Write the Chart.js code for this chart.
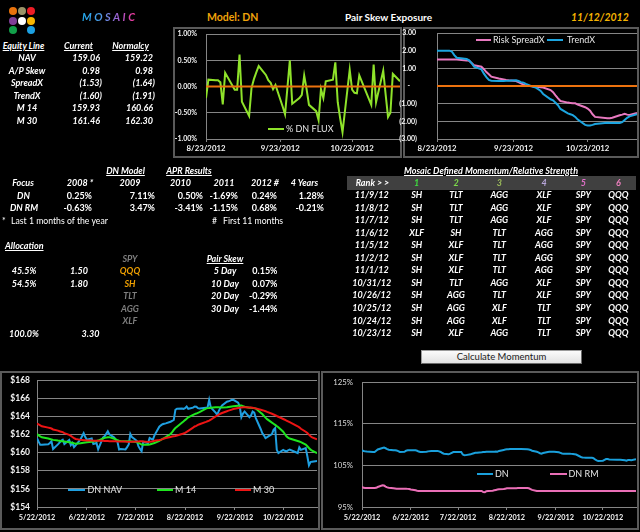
<!DOCTYPE html>
<html lang="en">
<head>
<meta charset="UTF-8">
<title>Mosaic - Pair Skew Exposure</title>
<script src="https://cdn.jsdelivr.net/npm/chart.js"></script>
<style>
  html, body { margin: 0; padding: 0; background: #000; }
  #page { position: relative; width: 640px; height: 532px; background: #000; overflow: hidden; }
  .t { position: absolute; height: 12px; line-height: 12px; white-space: pre; color: #fff;
       font: italic bold 9px Lato, 'Liberation Sans', sans-serif; }
  .u { text-decoration: underline; }
  .n { font-style: normal; }
  .plain { font-style: normal; font-weight: normal; font-size: 8.7px; }
  .frame { position: absolute; box-sizing: border-box; border: 2px solid #5a5a5a; background: #000; }
  canvas { position: absolute; }
  .dot { position: absolute; width: 8px; height: 8px; border-radius: 50%; }
  .key { position: absolute; height: 2px; }
  .lg { position: absolute; height: 12px; line-height: 12px; white-space: pre; color: #e6e6e6;
        font: 9px Lato, 'Liberation Sans', sans-serif; }
  .head { position: absolute; top: 10px; height: 14px; line-height: 14px; white-space: pre;
          font-family: Lato, 'Liberation Sans', sans-serif; font-weight: bold; }
</style>
</head>
<body>
<div id="page">
  <!-- logo -->
  <div class="dot" style="left:9px;top:7px;background:#e8720c"></div>
  <div class="dot" style="left:18px;top:7px;background:#9a9468"></div>
  <div class="dot" style="left:27px;top:7px;background:#ee1c25"></div>
  <div class="dot" style="left:9px;top:17px;background:#7f3f98"></div>
  <div class="dot" style="left:18px;top:17px;background:#ffffff"></div>
  <div class="dot" style="left:27px;top:17px;background:#f7b500"></div>
  <div class="dot" style="left:9px;top:26px;background:#12a04a"></div>
  <div class="dot" style="left:27px;top:26px;background:#1ca0e2"></div>

  <div class="head" style="left:82px;font-size:11px;font-style:italic;letter-spacing:2.5px;
       background:linear-gradient(90deg,#1ea8ea,#4f9be8,#a45bd0,#ff2f8a);-webkit-background-clip:text;background-clip:text;color:transparent">MOSAIC</div>
  <div class="head" style="left:207px;font-size:10.5px;color:#f0a30a">Model: DN</div>
  <div class="head" style="left:345px;font-size:10px;color:#fff">Pair Skew Exposure</div>
  <div class="head" style="left:571px;font-size:10.5px;font-style:italic;color:#f5b400">11/12/2012</div>

  <div class="frame" style="left:173px;top:27px;width:229px;height:131px"></div>
  <div class="frame" style="left:403px;top:27px;width:236px;height:131px"></div>
  <div class="frame" style="left:0px;top:371px;width:320px;height:159px"></div>
  <div class="frame" style="left:321px;top:371px;width:318px;height:159px"></div>

  <canvas id="flux" width="229" height="126" style="left:171px;top:29px"></canvas>
  <canvas id="skew" width="239" height="126" style="left:398px;top:29px"></canvas>
  <canvas id="nav" width="316" height="155" style="left:2px;top:373px"></canvas>
  <canvas id="perf" width="314" height="155" style="left:323px;top:373px"></canvas>

  <div style="position:absolute;left:347px;top:176px;width:289px;height:14px;background:#404040"></div>
  <div style="position:absolute;left:421px;top:350px;width:161px;height:14px;box-sizing:border-box;
       background:linear-gradient(#fbfbfb,#e2e2e2);border:1px solid #9a9a9a;border-right-color:#6a6a6a;border-bottom-color:#6a6a6a;
       font:9.5px Lato,sans-serif;color:#1a1a1a;text-align:center;line-height:12px">Calculate Momentum</div>
</div>

<script>
// trading days, 5/22/2012 .. 11/12/2012
const dates = [
  '5/22','5/23','5/24','5/25','5/29','5/30','5/31',
  '6/1','6/4','6/5','6/6','6/7','6/8','6/11','6/12','6/13','6/14','6/15','6/18','6/19','6/20','6/21','6/22','6/25','6/26','6/27','6/28','6/29',
  '7/2','7/3','7/5','7/6','7/9','7/10','7/11','7/12','7/13','7/16','7/17','7/18','7/19','7/20','7/23','7/24','7/25','7/26','7/27','7/30','7/31',
  '8/1','8/2','8/3','8/6','8/7','8/8','8/9','8/10','8/13','8/14','8/15','8/16','8/17','8/20','8/21','8/22','8/23','8/24','8/27','8/28','8/29','8/30','8/31',
  '9/4','9/5','9/6','9/7','9/10','9/11','9/12','9/13','9/14','9/17','9/18','9/19','9/20','9/21','9/24','9/25','9/26','9/27','9/28',
  '10/1','10/2','10/3','10/4','10/5','10/8','10/9','10/10','10/11','10/12','10/15','10/16','10/17','10/18','10/19','10/22','10/23','10/24','10/25','10/26','10/31',
  '11/1','11/2','11/5','11/6','11/7','11/8','11/9','11/12'
];
const recentDates = dates.slice(dates.indexOf('8/23'));
const recentTicks = ['8/23', '9/23', '10/23'];
const longTicks = ['5/22', '6/22', '7/22', '8/22', '9/22', '10/22'];

// % DN FLUX (daily)
const dnFlux = [
  -0.22, 0.13, 0.12, 0.12, 0.08, -0.34, 0.26,
  -0.06, -0.06, 0.61, -0.29, -0.56, -0.03, 0.14, 0.27, 0.39, 0.22, 0.12, 0.07, -0.05, 0.03, -0.38, -0.53, -0.02, 0.50, -0.33,
  -0.22, -0.16, 0.21, -0.05, -0.35, -0.47, -0.64, -0.05, -0.22, 0.10, 0.13, 0.46, -0.30, -0.60, -0.87, 0.32, -0.06, -0.12, -0.13, 0.21, -0.35,
  0.42, -0.30, 0.30, -0.15, -0.58, -0.50, 0.24, 0.10
];
const fluxZero = [0, 0];

const riskSpreadX = [
  1.50, 1.50, 1.50, 1.50, 1.50, 1.50, 1.50,
  1.45, 1.43, 1.30, 1.17, 1.09, 0.95, 0.79, 0.66, 0.53, 0.42, 0.40, 0.37, 0.34, 0.32, 0.28, 0.22, 0.15, 0.08, 0.02,
  -0.03, -0.04, -0.05, -0.07, -0.09, -0.23, -0.35, -0.53, -0.70, -0.85, -0.94, -0.96, -0.98, -0.98, -1.05, -1.20, -1.28, -1.40, -1.60, -1.75, -1.83,
  -1.82, -1.80, -1.66, -1.62, -1.57, -1.62, -1.64, -1.53
];
const trendX = [
  2.00, 2.00, 2.00, 2.00, 1.95, 1.75, 1.60,
  1.53, 1.45, 1.30, 1.10, 0.94, 0.70, 0.50, 0.34, 0.30, 0.28, 0.28, 0.28, 0.29, 0.30, 0.32, 0.28, 0.22, 0.19, 0.12,
  -0.05, -0.09, -0.18, -0.28, -0.45, -0.75, -0.81, -0.95, -1.09, -1.30, -1.55, -1.60, -1.65, -1.75, -1.90, -2.20, -2.23, -2.23, -2.20, -2.15, -2.08,
  -2.09, -2.10, -2.10, -2.05, -1.92, -1.80, -1.72, -1.60
];
const skewZero = [0, 0];

const dnNav = [
  161.60, 161.20, 160.85, 160.85, 160.92, 161.05, 161.24,
  160.40, 160.90, 161.10, 161.30, 161.42, 160.95, 161.40, 160.82, 161.05, 160.60, 160.80, 161.45, 161.80, 162.15, 161.70, 161.42, 161.55, 160.95, 161.00, 161.05, 160.35,
  161.65, 161.79, 162.34, 162.00, 161.65, 161.40, 161.20, 160.35, 160.40, 160.35, 160.60, 160.90, 162.05, 161.70, 161.30, 160.70, 160.40, 160.15, 161.20, 161.05, 161.60,
  161.50, 161.42, 161.90, 162.85, 163.00, 163.12, 163.18, 163.22, 163.40, 163.50, 163.60, 164.72, 164.83, 164.85, 164.82, 164.90, 165.08, 164.83, 164.95, 165.08, 165.05, 164.90, 164.85,
  164.95, 164.97, 165.82, 164.97, 164.40, 164.17, 164.60, 164.95, 165.19, 165.60, 165.65, 165.72, 165.80, 165.82, 165.50, 165.08, 163.90, 164.30, 164.53,
  163.90, 164.10, 164.53, 164.40, 163.80, 162.60, 162.15, 161.90, 161.60, 161.70, 162.04, 162.50, 162.70, 160.30, 159.95, 160.30, 160.20, 160.14, 160.25, 160.32, 159.95,
  160.58, 160.30, 160.50, 159.60, 158.60, 158.95, 159.00, 159.06
];
const m14 = [
  162.05, 161.90, 161.78, 161.68, 161.55, 161.50, 161.45,
  161.40, 161.32, 161.30, 161.26, 161.24, 161.22, 161.15, 161.12, 161.08, 161.02, 160.98, 161.02, 161.06, 161.09, 161.12, 161.15, 161.20, 161.22, 161.24, 161.28, 161.32,
  161.55, 161.62, 161.70, 161.70, 161.52, 161.45, 161.35, 161.30, 161.28, 161.24, 161.24, 161.24, 161.24, 161.22, 161.16, 161.08, 160.98, 160.88, 160.87, 160.87, 160.90,
  160.95, 161.00, 161.05, 161.30, 161.40, 161.50, 161.60, 161.70, 162.05, 162.25, 162.50, 162.70, 162.85, 163.28, 163.42, 163.58, 163.72, 163.88, 164.15, 164.24, 164.30, 164.38, 164.45,
  164.85, 164.90, 164.92, 164.95, 165.00, 165.00, 164.99, 164.98, 164.97, 165.00, 165.03, 165.06, 165.09, 165.11, 165.16, 165.18, 165.19, 165.12, 165.05,
  164.95, 164.93, 164.92, 164.90, 164.85, 164.40, 164.25, 164.05, 163.85, 163.68, 163.30, 163.18, 163.05, 162.92, 162.80, 162.30, 162.05, 161.80, 161.65, 161.55, 161.28,
  161.22, 161.16, 160.88, 160.70, 160.50, 160.32, 160.20, 159.93
];
const m30 = [
  163.20, 163.10, 163.00, 162.90, 162.75, 162.70, 162.65,
  162.55, 162.42, 162.35, 162.30, 162.25, 162.15, 161.95, 161.85, 161.72, 161.60, 161.50, 161.40, 161.38, 161.36, 161.35, 161.34, 161.32, 161.31, 161.31, 161.30, 161.30,
  161.29, 161.28, 161.27, 161.26, 161.25, 161.24, 161.23, 161.22, 161.22, 161.21, 161.20, 161.20, 161.20, 161.20, 161.22, 161.23, 161.24, 161.24, 161.22, 161.16, 161.18,
  161.22, 161.25, 161.30, 161.38, 161.42, 161.48, 161.55, 161.60, 161.72, 161.76, 161.79, 161.82, 161.88, 162.05, 162.10, 162.17, 162.28, 162.40, 162.75, 162.88, 162.95, 163.05, 163.12,
  163.38, 163.45, 163.52, 163.62, 163.98, 164.08, 164.18, 164.28, 164.36, 164.56, 164.62, 164.68, 164.74, 164.80, 164.92, 164.95, 164.97, 164.99, 165.00,
  164.98, 164.96, 164.93, 164.90, 164.87, 164.72, 164.67, 164.62, 164.56, 164.48, 164.28, 164.20, 164.12, 164.03, 163.95, 163.70, 163.62, 163.53, 163.44, 163.35, 162.90,
  162.78, 162.62, 162.30, 162.15, 161.98, 161.80, 161.68, 161.46
];

// cumulative performance, %
const dnPerf = [
  108.60, 108.45, 108.35, 108.30, 108.20, 108.20, 108.50,
  108.80, 109.15, 109.25, 109.10, 108.90, 108.75, 108.60, 108.60, 108.55, 108.40, 108.20, 108.25, 108.50, 108.60, 108.60, 108.60, 108.60, 108.50, 108.30, 108.20, 108.20,
  108.25, 108.35, 108.44, 108.44, 108.44, 108.35, 108.20, 107.95, 107.80, 107.64, 107.80, 108.00, 108.20, 108.20, 108.20, 108.20, 107.60, 107.40, 107.45, 107.64, 107.80,
  107.90, 108.00, 108.04, 108.15, 108.20, 108.20, 108.25, 108.25, 108.25, 108.28, 108.30, 108.28, 108.45, 108.70, 108.78, 108.84, 108.86, 108.90, 108.92, 108.92, 108.92, 108.92, 108.92,
  108.88, 108.80, 108.70, 108.50, 108.25, 108.10, 107.90, 107.80, 107.95, 108.20, 108.25, 108.28, 108.28, 108.28, 108.15, 108.00, 107.85, 107.80, 107.80,
  107.80, 107.75, 107.70, 107.65, 107.60, 107.00, 106.90, 106.85, 106.84, 106.84, 106.84, 106.70, 106.40, 106.20, 106.05, 106.10, 106.30, 106.50, 106.50, 106.40, 106.36,
  106.36, 106.36, 106.20, 106.10, 106.30, 106.30, 106.20, 106.45
];
const dnRmPerf = [
  99.80, 99.60, 99.56, 99.56, 99.56, 99.56, 99.60,
  99.80, 100.20, 100.15, 99.90, 99.70, 99.60, 99.50, 99.45, 99.40, 99.40, 99.40, 99.40, 99.40, 99.35, 99.30, 99.20, 99.00, 98.90, 98.84, 98.84, 98.84,
  98.84, 98.84, 98.84, 98.84, 98.84, 98.84, 98.84, 98.84, 98.84, 98.84, 98.84, 98.84, 98.84, 98.84, 98.84, 98.84, 98.84, 98.84, 98.84, 98.84, 98.84,
  98.84, 98.84, 98.84, 98.84, 98.60, 98.55, 98.80, 98.84, 98.90, 99.00, 99.10, 99.20, 99.24, 99.30, 99.40, 99.48, 99.48, 99.48, 99.50, 99.52, 99.55, 99.56, 99.56,
  99.56, 99.50, 99.30, 99.10, 98.84, 98.84, 98.84, 98.84, 98.84, 98.84, 98.84, 98.84, 98.84, 98.84, 98.84, 98.84, 98.84, 98.84, 98.84,
  98.84, 98.84, 98.84, 98.84, 98.84, 98.84, 98.84, 98.84, 98.84, 98.84, 98.84, 98.84, 98.84, 98.84, 98.84, 98.84, 98.84, 98.84, 98.84, 98.84, 98.84,
  98.84, 98.84, 98.84, 98.84, 98.84, 98.84, 98.84, 98.84
];

// tables
const equityLabels   = ['NAV', 'A/P Skew', 'SpreadX', 'TrendX', 'M 14', 'M 30'];
const equityCurrent  = ['159.06', '0.98', '(1.53)', '(1.60)', '159.93', '161.46'];
const equityNormalcy = ['159.22', '0.98', '(1.64)', '(1.91)', '160.66', '162.30'];

const aprHeaders = ['Focus', '2008 *', '2009', '2010', '2011', '2012 #', '4 Years'];
const aprFocus   = ['DN', 'DN RM'];
const aprDn      = ['0.25%', '7.11%', '0.50%', '-1.69%', '0.24%', '1.28%'];
const aprDnRm    = ['-0.63%', '3.47%', '-3.41%', '-1.15%', '0.68%', '-0.21%'];

const allocPct    = ['45.5%', '54.5%'];
const allocWeight = ['1.50', '1.80'];
const allocTotal  = ['100.0%', '3.30'];
const tickers     = ['SPY', 'QQQ', 'SH', 'TLT', 'AGG', 'XLF'];
const heldTickers = ['QQQ', 'SH'];
const skewWindows = ['5 Day', '10 Day', '20 Day', '30 Day'];
const skewValues  = ['0.15%', '0.07%', '-0.29%', '-1.44%'];

const rankHeads  = ['1', '2', '3', '4', '5', '6'];
const rankColors = ['#3fe03f', '#7ddc4a', '#9bbb59', '#b8a6d9', '#e070c8', '#f080c0'];
const rankDates  = ['11/9/12', '11/8/12', '11/7/12', '11/6/12', '11/5/12', '11/2/12', '11/1/12', '10/31/12', '10/26/12', '10/25/12', '10/24/12', '10/23/12'];
const rankRows = [
  ['SH', 'TLT', 'AGG', 'XLF', 'SPY', 'QQQ'],
  ['SH', 'TLT', 'AGG', 'XLF', 'SPY', 'QQQ'],
  ['SH', 'TLT', 'AGG', 'XLF', 'SPY', 'QQQ'],
  ['XLF', 'SH', 'TLT', 'AGG', 'SPY', 'QQQ'],
  ['SH', 'XLF', 'TLT', 'AGG', 'SPY', 'QQQ'],
  ['SH', 'XLF', 'TLT', 'AGG', 'SPY', 'QQQ'],
  ['SH', 'XLF', 'TLT', 'AGG', 'SPY', 'QQQ'],
  ['SH', 'TLT', 'AGG', 'XLF', 'SPY', 'QQQ'],
  ['SH', 'AGG', 'TLT', 'XLF', 'SPY', 'QQQ'],
  ['SH', 'AGG', 'XLF', 'TLT', 'SPY', 'QQQ'],
  ['SH', 'AGG', 'XLF', 'TLT', 'SPY', 'QQQ'],
  ['SH', 'XLF', 'AGG', 'TLT', 'SPY', 'QQQ']
];

// ---------- text placing ----------
const page = document.getElementById('page');
function put(txt, x, y, o = {}) {
  const d = document.createElement('div');
  d.className = 't ' + (o.cls || '');
  d.textContent = txt;
  if (o.a === 'r') { d.style.left = (x - 200) + 'px'; d.style.width = '200px'; d.style.textAlign = 'right'; }
  else if (o.a === 'c') { d.style.left = (x - 100) + 'px'; d.style.width = '200px'; d.style.textAlign = 'center'; }
  else d.style.left = x + 'px';
  d.style.top = (y - 6) + 'px';
  if (o.color) d.style.color = o.color;
  page.appendChild(d);
}

put('Equity Line', 23.5, 46, { a: 'c', cls: 'u' });
put('Current', 78.5, 46, { a: 'c', cls: 'u' });
put('Normalcy', 130.5, 46, { a: 'c', cls: 'u' });
const eqY = [58, 70.5, 83, 95.5, 108, 120.5];
equityLabels.forEach((s, i) => {
  put(s, 27, eqY[i], { a: 'c' });
  put(equityCurrent[i], equityCurrent[i][0] === '(' ? 102 : 100, eqY[i], { a: 'r' });
  put(equityNormalcy[i], equityNormalcy[i][0] === '(' ? 155 : 153, eqY[i], { a: 'r' });
});

put('DN Model', 125.5, 171, { a: 'c', cls: 'u' });
put('APR Results', 189, 171, { a: 'c', cls: 'u' });
const headX = [23, 80, 130, 180.5, 224, 265, 304.5];
aprHeaders.forEach((s, i) => put(s, headX[i], 183, { a: 'c' }));
const aprX = [92, 155, 203, 238, 277, 324];
put(aprFocus[0], 23.5, 195.5, { a: 'c' });
put(aprFocus[1], 24, 208, { a: 'c' });
aprDn.forEach((s, i) => put(s, aprX[i], 195.5, { a: 'r', cls: 'n' }));
aprDnRm.forEach((s, i) => put(s, aprX[i], 208, { a: 'r', cls: 'n' }));
put('*', 2, 221, { cls: 'plain' });
put('Last 1 months of the year', 11, 221, { cls: 'plain' });
put('#', 212, 221, { cls: 'plain' });
put('First 11 months', 223, 221, { cls: 'plain' });

put('Allocation', 5, 246, { cls: 'u' });
const tkY = [258.5, 271, 283.5, 296, 308.5, 321];
tickers.forEach((s, i) => put(s, 130, tkY[i], { a: 'c', color: heldTickers.includes(s) ? '#f0a000' : '#7f7f7f' }));
allocPct.forEach((s, i) => { put(s, 24, tkY[i + 1], { a: 'c' }); put(allocWeight[i], 79, tkY[i + 1], { a: 'c' }); });
put(allocTotal[0], 24, 333.5, { a: 'c' });
put(allocTotal[1], 90.5, 333.5, { a: 'c' });
put('Pair Skew', 225, 258.5, { a: 'c', cls: 'u' });
skewWindows.forEach((s, i) => {
  put(s, 225, tkY[i + 1], { a: 'c' });
  put(skewValues[i], 277.5, tkY[i + 1], { a: 'r', cls: 'n' });
});

put('Mosaic Defined Momentum/Relative Strength', 491, 170.5, { a: 'c', cls: 'u' });
const colX = [416.7, 456, 499.3, 544, 583.3, 618.3];
put('Rank > >', 372.5, 183.3, { a: 'c' });
rankHeads.forEach((s, i) => put(s, colX[i], 183.3, { a: 'c', color: rankColors[i] }));
rankDates.forEach((s, r) => {
  const y = 195.3 + r * 12.52;
  put(s, 371.7, y, { a: 'c' });
  rankRows[r].forEach((tk, i) => put(tk, colX[i], y, { a: 'c' }));
});

// chart legends (html)
function key(x1, x2, y, color) {
  const d = document.createElement('div');
  d.className = 'key';
  Object.assign(d.style, { left: x1 + 'px', width: (x2 - x1) + 'px', top: (y - 1) + 'px', background: color });
  page.appendChild(d);
}
function lg(txt, x, y) {
  const d = document.createElement('div');
  d.className = 'lg';
  d.textContent = txt;
  Object.assign(d.style, { left: x + 'px', top: (y - 6) + 'px' });
  page.appendChild(d);
}

// ---------- charts ----------
const GREEN = '#8ee22a', ORANGE = '#ec720e', PINK = '#e879c0', BLUE = '#1ca5e0';
const GRID = '#858585';

const toDay = s => { const [m, d] = s.split('/').map(Number); return Date.UTC(2012, m - 1, d) / 864e5; };
const fmtDay = v => { const t = new Date(v * 864e5); return (t.getUTCMonth() + 1) + '/' + t.getUTCDate() + '/' + t.getUTCFullYear(); };
const pts = (ds, vals) => vals.map((v, i) => ({ x: toDay(ds[i]), y: v }));
const ends = (ds, vals) => [{ x: toDay(ds[0]), y: vals[0] }, { x: toDay(ds[ds.length - 1]), y: vals[1] }];

function makeChart(id, ds, tickDates, series, y, fit) {
  return new Chart(document.getElementById(id), {
    type: 'line',
    data: {
      datasets: series.map(s => ({
        data: s.data, borderColor: s.color, borderWidth: 2, pointRadius: 0, tension: 0, fill: false
      }))
    },
    options: {
      responsive: false,
      animation: false,
      events: [],
      layout: { padding: { top: fit.top, right: fit.right, left: 0, bottom: 0 } },
      plugins: { legend: { display: false }, tooltip: { enabled: false } },
      scales: {
        x: {
          type: 'linear',
          min: toDay(ds[0]),
          max: toDay(ds[ds.length - 1]),
          afterBuildTicks: sc => { sc.ticks = tickDates.map(s => ({ value: toDay(s) })); },
          afterFit: sc => { sc.height = fit.xh; sc.paddingLeft = 0; sc.paddingRight = 0; },
          grid: { drawOnChartArea: false, drawTicks: true, tickLength: 3, color: GRID },
          border: { color: GRID, width: 1 },
          ticks: {
            color: '#f2f2f2', padding: fit.xpad, maxRotation: 0, autoSkip: false,
            font: { family: 'Lato', size: fit.xsize, weight: 'bold' },
            callback: v => fmtDay(v)
          }
        },
        y: {
          min: y.min,
          max: y.max,
          afterFit: sc => { sc.width = fit.yw; sc.paddingTop = 0; sc.paddingBottom = 0; },
          grid: { color: GRID, drawTicks: false },
          border: { color: GRID, width: 1 },
          ticks: {
            stepSize: y.step, padding: fit.pad, color: y.color || '#f2f2f2',
            font: { family: 'Lato', size: y.size, weight: y.weight || 'bold' },
            callback: y.fmt
          }
        }
      }
    }
  });
}

makeChart('flux', recentDates, recentTicks, [
  { data: ends(recentDates, fluxZero), color: ORANGE },
  { data: pts(recentDates, dnFlux), color: GREEN }
], { min: -1, max: 1, step: 0.5, size: 7, fmt: v => v.toFixed(2) + '%' },
{ top: 5, right: 0, xh: 16, yw: 35, pad: 9, xsize: 7.8, xpad: 2 });
key(268, 284, 128.5, GREEN); lg('% DN FLUX', 286, 128.5);

const acct = v => v > 0 ? v.toFixed(2) + '\u2009' : v === 0 ? '-\u2002\u2002' : '(' + Math.abs(v).toFixed(2) + ')';
makeChart('skew', recentDates, recentTicks, [
  { data: ends(recentDates, skewZero), color: ORANGE },
  { data: pts(recentDates, trendX), color: BLUE },
  { data: pts(recentDates, riskSpreadX), color: PINK }
], { min: -3, max: 3, step: 1, size: 7, fmt: acct },
{ top: 4, right: 0, xh: 16, yw: 39, pad: 20, xsize: 7.8, xpad: 2 });
key(476, 491, 39.5, PINK); lg('Risk SpreadX', 493, 39.5);
key(547, 563, 39.5, BLUE); lg('TrendX', 567, 39.5);

makeChart('nav', dates, longTicks, [
  { data: pts(dates, m30), color: '#ee1414' },
  { data: pts(dates, m14), color: '#1ee61e' },
  { data: pts(dates, dnNav), color: '#1f9fe0' }
], { min: 154, max: 168, step: 2, size: 8.5, fmt: v => '$' + v },
{ top: 7, right: 1, xh: 21, yw: 35, pad: 7, xsize: 7.3, xpad: 3 });
key(68, 85, 489.5, '#1f9fe0'); lg('DN NAV', 87.5, 489.5);
key(157, 173, 489.5, '#1ee61e'); lg('M 14', 175, 489.5);
key(235, 251, 489.5, '#ee1414'); lg('M 30', 253, 489.5);

makeChart('perf', dates, longTicks, [
  { data: pts(dates, dnRmPerf), color: '#ea6fb7' },
  { data: pts(dates, dnPerf), color: '#1aa0dc' }
], { min: 95, max: 125, step: 10, size: 7.8, fmt: v => v + '%', weight: 'normal', color: '#d9d9d9' },
{ top: 9, right: 1, xh: 21, yw: 39, pad: 9, xsize: 7.3, xpad: 3 });
key(477, 493, 474, '#1aa0dc'); lg('DN', 495, 474);
key(550, 567, 474, '#ea6fb7'); lg('DN RM', 568.5, 474);
</script>
</body>
</html>
